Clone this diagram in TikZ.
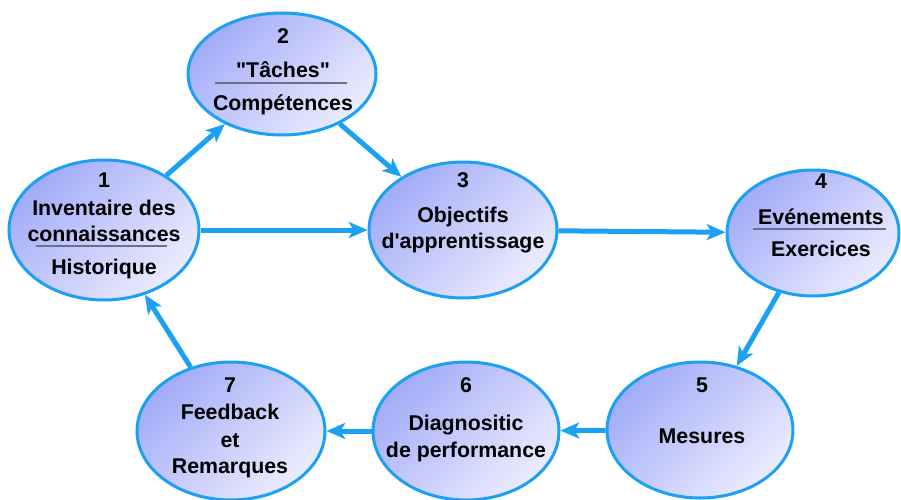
\documentclass[tikz,border=0pt]{standalone}
\usepackage{fontspec}
\setmainfont{Liberation Sans}[Ligatures=TeXOff]
\usetikzlibrary{shapes.geometric,arrows.meta}
\definecolor{bordc}{RGB}{28,160,242}
\definecolor{fillA}{RGB}{162,172,248}
\definecolor{fillB}{RGB}{236,236,254}
\definecolor{sepc}{RGB}{110,110,135}
\begin{document}
\begin{tikzpicture}[x=0.75pt,y=-0.75pt,
  bubble/.style={ellipse, draw=bordc, line width=2.25pt, top color=fillA, bottom color=fillB, shading angle=45, inner sep=0pt},
  txt/.style={anchor=base, font=\bfseries\fontsize{16}{19}\selectfont, inner sep=0pt},
  sepline/.style={draw=sepc, line width=1.2pt},
  flow/.style={draw=bordc, line width=3.75pt, -{Stealth[length=14pt,width=12pt,inset=3.5pt]}}]
\useasboundingbox (0,0) rectangle (901,500);
% ellipses
\node[bubble, minimum width=142.5pt, minimum height=105pt] (n1) at (104,230) {};
\node[bubble, minimum width=141pt, minimum height=91.5pt] (n2) at (282,74) {};
\node[bubble, minimum width=141pt, minimum height=102pt] (n3) at (463,230) {};
\node[bubble, minimum width=129pt, minimum height=94.5pt] (n4) at (813,233) {};
\node[bubble, minimum width=139.5pt, minimum height=102pt] (n5) at (700,430) {};
\node[bubble, minimum width=139.5pt, minimum height=103.5pt] (n6) at (466,431) {};
\node[bubble, minimum width=141pt, minimum height=103.5pt] (n7) at (231,431) {};
% texts 1
\node[txt] (t1a) at (104,187) {1};
\node[txt] (t1b) at (104,215) {Inventaire des};
\node[txt] (t1c) at (104,241) {connaissances};
\node[txt] (t1d) at (104,274) {Historique};
\draw[sepline] (36,246) -- (167,246);
% texts 2
\node[txt] (t2a) at (283,43) {2};
\node[txt] (t2b) at (283,77) {"Tâches"};
\node[txt] (t2c) at (283,110) {Compétences};
\draw[sepline] (215,83) -- (347,83);
% texts 3
\node[txt] (t3a) at (463,187) {3};
\node[txt] (t3b) at (463,222) {Objectifs};
\node[txt] (t3c) at (463,248) {d'apprentissage};
% texts 4
\node[txt] (t4a) at (821,188) {4};
\node[txt] (t4b) at (821,224) {Evénements};
\node[txt] (t4c) at (821,256) {Exercices};
\draw[sepline] (753,229) -- (886,229);
% texts 5
\node[txt] (t5a) at (702,392) {5};
\node[txt] (t5b) at (702,443) {Mesures};
% texts 6
\node[txt] (t6a) at (466,392) {6};
\node[txt] (t6b) at (466,430) {Diagnositic};
\node[txt] (t6c) at (466,457) {de performance};
% texts 7
\node[txt] (t7a) at (230,392) {7};
\node[txt] (t7b) at (230,419) {Feedback};
\node[txt] (t7c) at (230,447) {et};
\node[txt] (t7d) at (230,473) {Remarques};
% arrows
\draw[flow] (n1) -- (n2);
\draw[flow] (n2) -- (n3);
\draw[flow] (n1) -- (n3);
\draw[flow] (n3) -- (n4);
\draw[flow] (n4) -- (n5);
\draw[flow] (n5) -- (n6);
\draw[flow] (n6) -- (n7);
\draw[flow] (n7) -- (n1);
\end{tikzpicture}
\end{document}
